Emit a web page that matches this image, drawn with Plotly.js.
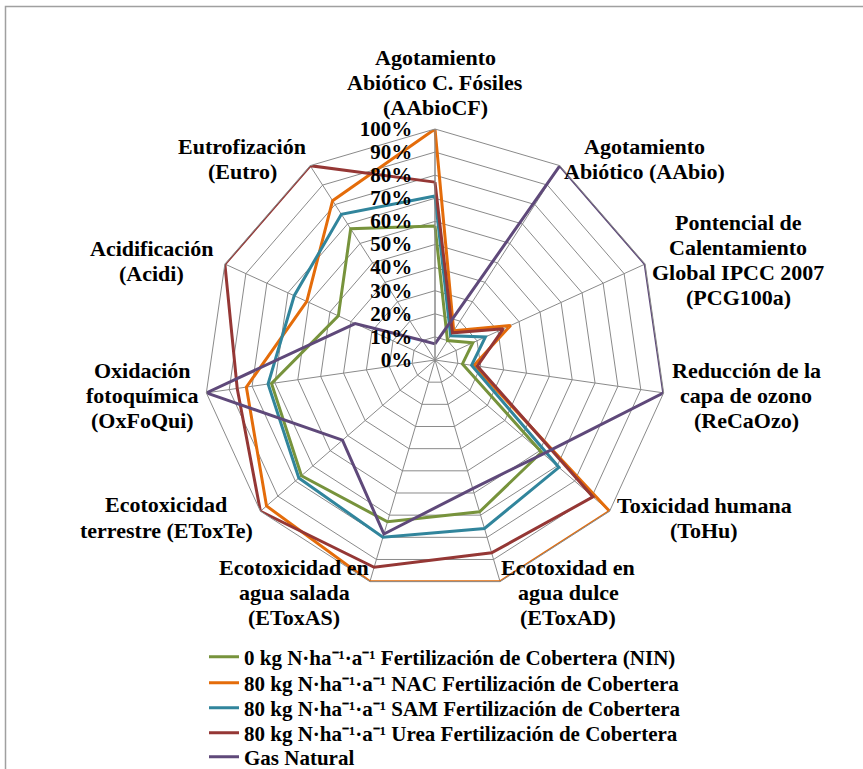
<!DOCTYPE html>
<html>
<head>
<meta charset="utf-8">
<script src="https://cdn.plot.ly/plotly-3.0.1.min.js"></script>
<style>html,body{margin:0;padding:0;background:#fff}#chart{width:863px;height:769px}</style>
</head>
<body>
<div id="chart"></div>
<script>
// Categories (clockwise from top)
const categories = ["AAbioCF","AAbio","PCG100a","ReCaOzo","ToHu","EToxAD","EToxAS","EToxTe","OxFoQui","Acidi","Eutro"];
const categoryLabels = [
  ["Agotamiento","Abiótico C. Fósiles","(AAbioCF)"],
  ["Agotamiento","Abiótico (AAbio)"],
  ["Pontencial de","Calentamiento","Global IPCC 2007","(PCG100a)"],
  ["Reducción de la","capa de ozono","(ReCaOzo)"],
  ["Toxicidad humana","(ToHu)"],
  ["Ecotoxidad en","agua dulce","(EToxAD)"],
  ["Ecotoxicidad en","agua salada","(EToxAS)"],
  ["Ecotoxicidad","terrestre (EToxTe)"],
  ["Oxidación","fotoquímica","(OxFoQui)"],
  ["Acidificación","(Acidi)"],
  ["Eutrofización","(Eutro)"]
];
// Series values (% of maximum)
const seriesNames = [
  "0 kg N·ha⁻¹·a⁻¹ Fertilización de Cobertera (NIN)",
  "80 kg N·ha⁻¹·a⁻¹ NAC Fertilización de Cobertera",
  "80 kg N·ha⁻¹·a⁻¹ SAM Fertilización de Cobertera",
  "80 kg N·ha⁻¹·a⁻¹ Urea Fertilización de Cobertera",
  "Gas Natural"
];
const nin  = [58, 10, 18, 12, 61, 68.5, 73, 76.5, 71.5, 46, 67.5];
const nac  = [100, 15, 36, 17, 100, 100, 100, 96.5, 82.5, 61, 82];
const sam  = [71, 12.5, 24, 16, 71, 76, 80, 78, 73, 67, 75];
const urea = [77, 14, 32.5, 18.5, 90.5, 87, 93.5, 100, 86.5, 100, 100];
const gas  = [7, 100, 100, 100, 62, 58, 78.5, 53, 100, 38, 10];
const radialTicks = [0,10,20,30,40,50,60,70,80,90,100];

// Styles / positions (not data)
const colors = ["#77933C","#E46C0A","#31859C","#953735","#5F497A"];
const labelCenters = [[435,82.5],[644.5,158.5],[738,260],[746,395],[704,518],[568,592],[294,592],[166,517.5],[142,395],[151,260.5],[242,158.5]];
const legendRows = [657, 683, 708, 733, 757];
const W = 863, H = 769, lineGap = 25;
const FONT = "Liberation Serif";
const legendIds = ["legend","legend2","legend3","legend4","legend5"];

const allSeries = [nin, nac, sam, urea, gas];
const traces = allSeries.map((vals, i) => ({
  type: "scatterpolar",
  mode: "lines",
  r: vals.concat([vals[0]]),
  theta: categories.concat([categories[0]]),
  name: "<b>" + seriesNames[i] + "</b>",
  legend: legendIds[i],
  line: {color: colors[i], width: 3},
  hoverinfo: "skip"
}));

const annotations = [];
categoryLabels.forEach((lines, k) => {
  const [cx, cy] = labelCenters[k];
  lines.forEach((t, j) => {
    const py = cy + (j - (lines.length - 1) / 2) * lineGap;
    annotations.push({
      xref: "paper", yref: "paper", x: cx / W, y: 1 - py / H,
      xanchor: "center", yanchor: "middle", showarrow: false,
      text: "<b>" + t + "</b>", font: {family: FONT, size: 22, color: "#000"}
    });
  });
});

const layout = {
  width: W, height: H,
  margin: {l: 0, r: 0, t: 0, b: 0, autoexpand: false},
  paper_bgcolor: "#fff",
  showlegend: true,
  polar: {
    domain: {x: [204 / W, 666 / W], y: [(409 - 231) / H, (409 + 231) / H]},
    bgcolor: "#fff",
    gridshape: "linear",
    angularaxis: {
      type: "category", categoryarray: categories, categoryorder: "array",
      rotation: 90, direction: "clockwise",
      showticklabels: false, ticks: "",
      showline: true, linecolor: "#8a8a8a", linewidth: 1,
      showgrid: true, gridcolor: "#8a8a8a", gridwidth: 1
    },
    radialaxis: {
      range: [0, 100], angle: 90, side: "counterclockwise",
      tickmode: "array", tickvals: radialTicks, ticktext: radialTicks.map(v => "<b>" + v + "%</b>"),
      ticks: "outside", ticklen: 15, tickcolor: "rgba(0,0,0,0)",
      tickangle: 90,
      tickfont: {family: FONT, size: 21, color: "#000"},
      showline: true, linecolor: "#8a8a8a", linewidth: 1,
      showgrid: true, gridcolor: "#8a8a8a", gridwidth: 1
    }
  },
  annotations: annotations,
  shapes: [{
    type: "rect", xref: "paper", yref: "paper",
    x0: 5.5 / W, x1: 1.2, y0: -0.2, y1: 1 - 6.5 / H,
    line: {color: "#a0a0a0", width: 1.5}, fillcolor: "rgba(0,0,0,0)"
  }]
};
legendIds.forEach((id, i) => {
  layout[id] = {
    x: 204 / W, y: 1 - legendRows[i] / H, xanchor: "left", yanchor: "middle",
    font: {family: FONT, size: 21, color: "#000"},
    bgcolor: "rgba(0,0,0,0)", borderwidth: 0
  };
});

Plotly.newPlot("chart", traces, layout, {displayModeBar: false, staticPlot: true});
</script>
</body>
</html>
